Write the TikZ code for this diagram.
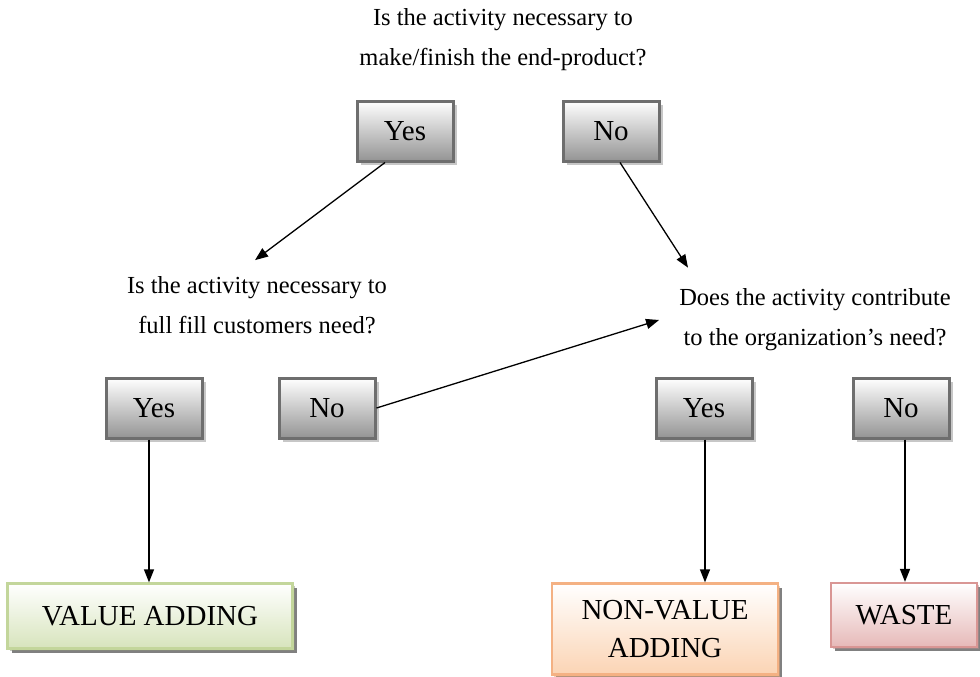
\documentclass[tikz,border=0pt]{standalone}
\usepackage{fontspec}
\setmainfont{Liberation Serif}
\usetikzlibrary{shadows,arrows.meta}
\definecolor{frameg}{HTML}{6E6E6E}
\definecolor{greenln}{HTML}{C3D69B}
\definecolor{greenfl}{HTML}{D7E4BC}
\definecolor{orangeln}{HTML}{F4B183}
\definecolor{orangefl}{HTML}{FBD4B4}
\definecolor{redln}{HTML}{D99694}
\definecolor{redfl}{HTML}{E6B9B8}
\begin{document}
\begin{tikzpicture}[x=1pt,y=-1pt,
  every node/.style={font=\fontsize{24.5}{40}\selectfont, inner sep=0pt},
  question/.style={align=center},
  boxtext/.style={font=\fontsize{29}{38}\selectfont},
  answer/.style={boxtext, draw=frameg, line width=3pt, minimum width=96pt, minimum height=60pt,
    top color=white, bottom color=black!42,
    drop shadow={shadow xshift=4pt, shadow yshift=-4pt, fill=black!22, opacity=1}},
  result/.style={boxtext, line width=2.2pt, align=center,
    drop shadow={shadow xshift=4pt, shadow yshift=-4pt, opacity=1}},
  link/.style={-{Triangle[length=13pt,width=10pt]}, line width=1.3pt}
]
\useasboundingbox (0,0) rectangle (980,677);

% questions
\node[question] (q1) at (503,40) {Is the activity necessary to\\make/finish the end-product?};
\node[question] (q2) at (257,305) {Is the activity necessary to\\full fill customers need?};
\node[question] (q3) at (815,320) {Does the activity contribute\\to the organization’s need?};

% answer boxes
\node[answer] (yes1) at (405,131) {Yes};
\node[answer] (no1)  at (611,131) {No};
\node[answer] (yes2) at (154,408) {Yes};
\node[answer] (no2)  at (327,408) {No};
\node[answer] (yes3) at (704,408) {Yes};
\node[answer] (no3)  at (901,408) {No};

% outcome boxes
\node[result, draw=greenln, top color=white, bottom color=greenfl,
      drop shadow={fill=black!35!greenfl!70!gray}, minimum width=285pt, minimum height=65pt]
      (va) at (150,616) {VALUE ADDING};
\node[result, draw=orangeln, top color=white, bottom color=orangefl,
      drop shadow={fill=orangeln!80!brown}, minimum width=226pt, minimum height=91pt]
      (nva) at (665,629) {NON-VALUE\\ADDING};
\node[result, draw=redln, top color=white, bottom color=redfl,
      drop shadow={fill=redln!60!gray}, minimum width=146pt, minimum height=64pt]
      (waste) at (904,615) {WASTE};

% connectors
\draw[link] ([xshift=-20pt]yes1.south) -- ([xshift=-2pt,yshift=16pt]q2.north);
\draw[link] ([xshift=9pt]no1.south) -- ([xshift=-127pt,yshift=21pt]q3.north);
\draw[link] (no2.east) -- ([xshift=-20pt]q3.west);
\draw[link] ([xshift=-5pt]yes2.south) -- ([xshift=-5pt]yes2.south |- va.north);
\draw[link] ([xshift=1pt]yes3.south) -- ([xshift=1pt]yes3.south |- nva.north);
\draw[link] ([xshift=4pt]no3.south) -- ([xshift=4pt]no3.south |- waste.north);
\end{tikzpicture}
\end{document}
